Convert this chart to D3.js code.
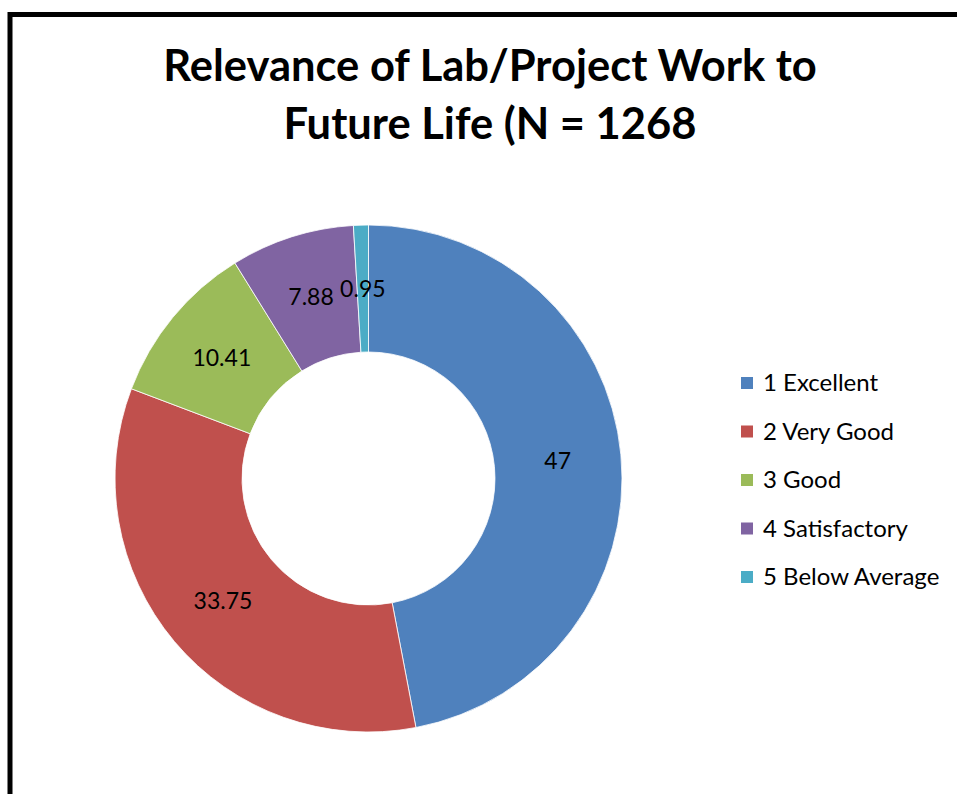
<!DOCTYPE html>
<html><head><meta charset="utf-8">
<script src="https://cdn.jsdelivr.net/npm/d3@7"></script>
<style>body{margin:0;background:#fff}svg{display:block}</style>
</head><body>
<svg id="c" width="957" height="794"></svg>
<script>
const categories = ["1 Excellent","2 Very Good","3 Good","4 Satisfactory","5 Below Average"];
const values = [47, 33.75, 10.41, 7.88, 0.95];
const labels = ["47","33.75","10.41","7.88","0.95"];
const colors = ["#4F81BD","#C0504D","#9BBB59","#8064A2","#4BACC6"];
const titleLines = ["Relevance of Lab/Project Work to","Future Life (N = 1268"];

const svg = d3.select("#c");
const font = "Lato, 'Open Sans', sans-serif";

// frame
svg.append("path").attr("d","M10,800 L10,14.5 L970,14.5")
  .attr("fill","none").attr("stroke","#000").attr("stroke-width",5);

// title
svg.selectAll("text.title").data(titleLines).enter().append("text")
  .attr("class","title").attr("x",490).attr("y",(d,i)=>81+i*58)
  .attr("text-anchor","middle").attr("font-family",font).attr("font-weight","bold")
  .attr("font-size",43.5).attr("fill","#000").text(d=>d);

const cx=368.5, cy=478.5, R=253.5, r=126.5;
const pie = d3.pie().sort(null).value(d=>d)(values);
const arc = d3.arc().innerRadius(r).outerRadius(R);
const labelArc = d3.arc().innerRadius(190).outerRadius(190);
const g = svg.append("g").attr("transform",`translate(${cx},${cy})`);
g.selectAll("path").data(pie).enter().append("path")
  .attr("d",arc).attr("fill",(d,i)=>colors[i]).attr("stroke","#fff").attr("stroke-width",0.8);
g.selectAll("text").data(pie).enter().append("text")
  .attr("transform",d=>`translate(${labelArc.centroid(d)})`)
  .attr("dy","0.35em").attr("text-anchor","middle")
  .attr("font-family",font).attr("font-size",23).attr("fill","#000")
  .text((d,i)=>labels[i]);

// legend
const lg = svg.append("g");
const rowY = i=>383+i*48.5;
lg.selectAll("rect").data(categories).enter().append("rect")
  .attr("x",741).attr("y",(d,i)=>rowY(i)-6).attr("width",12).attr("height",12)
  .attr("fill",(d,i)=>colors[i]);
lg.selectAll("text").data(categories).enter().append("text")
  .attr("x",763).attr("y",(d,i)=>rowY(i)).attr("dy","0.35em")
  .attr("font-family",font).attr("font-size",24).attr("fill","#000").text(d=>d);
</script>
</body></html>
